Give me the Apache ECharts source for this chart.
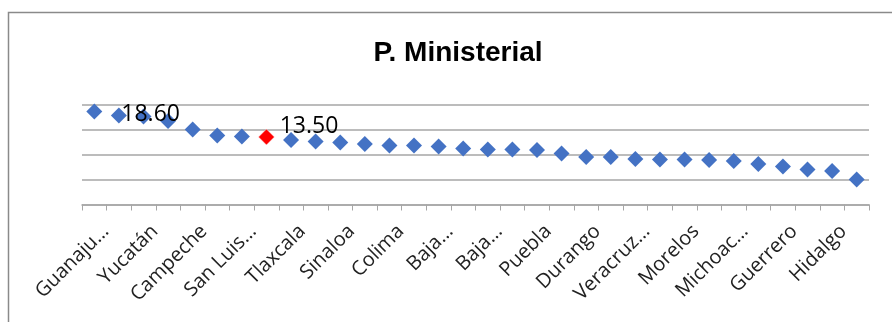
<!DOCTYPE html>
<html>
<head>
<meta charset="utf-8">
<script src="https://cdn.jsdelivr.net/npm/echarts@6/dist/echarts.min.js"></script>
<style>
  html, body { margin: 0; padding: 0; background: #fff; }
  #chart { width: 892px; height: 322px; }
</style>
</head>
<body>
<div id="chart"></div>
<script>
  // states, ordered as in the chart
  const categories = [
    'Guanajuato', 'Aguascalientes', 'Yucatán', 'Querétaro', 'Campeche', 'Nayarit',
    'San Luis Potosí', 'Nacional', 'Tlaxcala', 'Coahuila', 'Sinaloa', 'Sonora',
    'Colima', 'Zacatecas', 'Baja California', 'Jalisco', 'Baja California Sur', 'Chihuahua',
    'Puebla', 'Tamaulipas', 'Durango', 'Nuevo León', 'Veracruz de Ignacio de la Llave', 'Chiapas',
    'Morelos', 'Tabasco', 'Michoacán de Ocampo', 'Quintana Roo', 'Guerrero', 'Oaxaca',
    'Hidalgo', 'México'
  ]
  // what Excel prints under the axis (every other one, truncated)
  const tickLabels = [
    'Guanaju…', '', 'Yucatán', '', 'Campeche', '',
    'San Luis…', '', 'Tlaxcala', '', 'Sinaloa', '',
    'Colima', '', 'Baja…', '', 'Baja…', '',
    'Puebla', '', 'Durango', '', 'Veracruz…', '',
    'Morelos', '', 'Michoac…', '', 'Guerrero', '',
    'Hidalgo', ''
  ]
  const values = [
    18.6, 17.8, 17.6, 16.7, 15.0, 13.8,
    13.6, 13.5, 12.9, 12.6, 12.4, 12.1,
    11.8, 11.8, 11.6, 11.2, 11.0, 11.0,
    10.9, 10.2, 9.5, 9.5, 9.1, 9.0,
    9.0, 8.9, 8.7, 8.1, 7.6, 7.0,
    6.7, 5.0
  ]
  const yTicks = [0, 5, 10, 15, 20]
  const highlightIndex = 7
  const labelled = {0: [14, 3], 7: [0, -11]}

  const chart = echarts.init(document.getElementById('chart'))

  const seriesData = values.map(function (v, i) {
    const item = {value: v}
    if (i === highlightIndex) {
      item.itemStyle = {color: '#FF0000', borderColor: '#ffffff', borderWidth: 0.5}
    }
    if (labelled[i]) {
      item.label = {
        show: true,
        position: 'right',
        offset: labelled[i],
        formatter: function (p) { return p.value.toFixed(2) },
        fontFamily: 'Open Sans',
        fontSize: 23,
        color: '#000'
      }
    }
    return item
  })

  chart.setOption({
    animation: false,
    title: {
      text: 'P. Ministerial',
      left: 453,
      top: 34,
      textAlign: 'center',
      textStyle: {
        fontFamily: 'Liberation Sans',
        fontWeight: 'bold',
        fontSize: 28,
        color: '#000'
      }
    },
    graphic: [{
      type: 'rect',
      shape: {x: 8.5, y: 12.5, width: 1000, height: 400},
      style: {fill: 'none', stroke: '#8a8a8a', lineWidth: 1.5},
      silent: true
    }],
    grid: {left: 82, right: 23, top: 104.5, bottom: 117.5},
    xAxis: {
      type: 'category',
      data: categories,
      boundaryGap: true,
      axisLine: {lineStyle: {color: '#a6a6a6', width: 1.5}},
      axisTick: {show: true, interval: 0, length: 6, lineStyle: {color: '#a6a6a6'}},
      axisLabel: {
        interval: 0,
        rotate: 45,
        margin: 35,
        padding: [0, -16, 0, 0],
        fontFamily: 'Open Sans',
        fontSize: 20,
        color: '#222',
        formatter: function (v, i) { return tickLabels[i] }
      }
    },
    yAxis: {
      type: 'value',
      min: yTicks[0],
      max: yTicks[yTicks.length - 1],
      interval: 5,
      axisLine: {show: false},
      axisTick: {show: false},
      axisLabel: {show: false},
      splitLine: {lineStyle: {color: '#a6a6a6', width: 1.5}}
    },
    series: [{
      type: 'scatter',
      symbol: 'diamond',
      symbolSize: 16,
      itemStyle: {color: '#4472C4', opacity: 1},
      data: seriesData
    }]
  })
</script>
</body>
</html>
